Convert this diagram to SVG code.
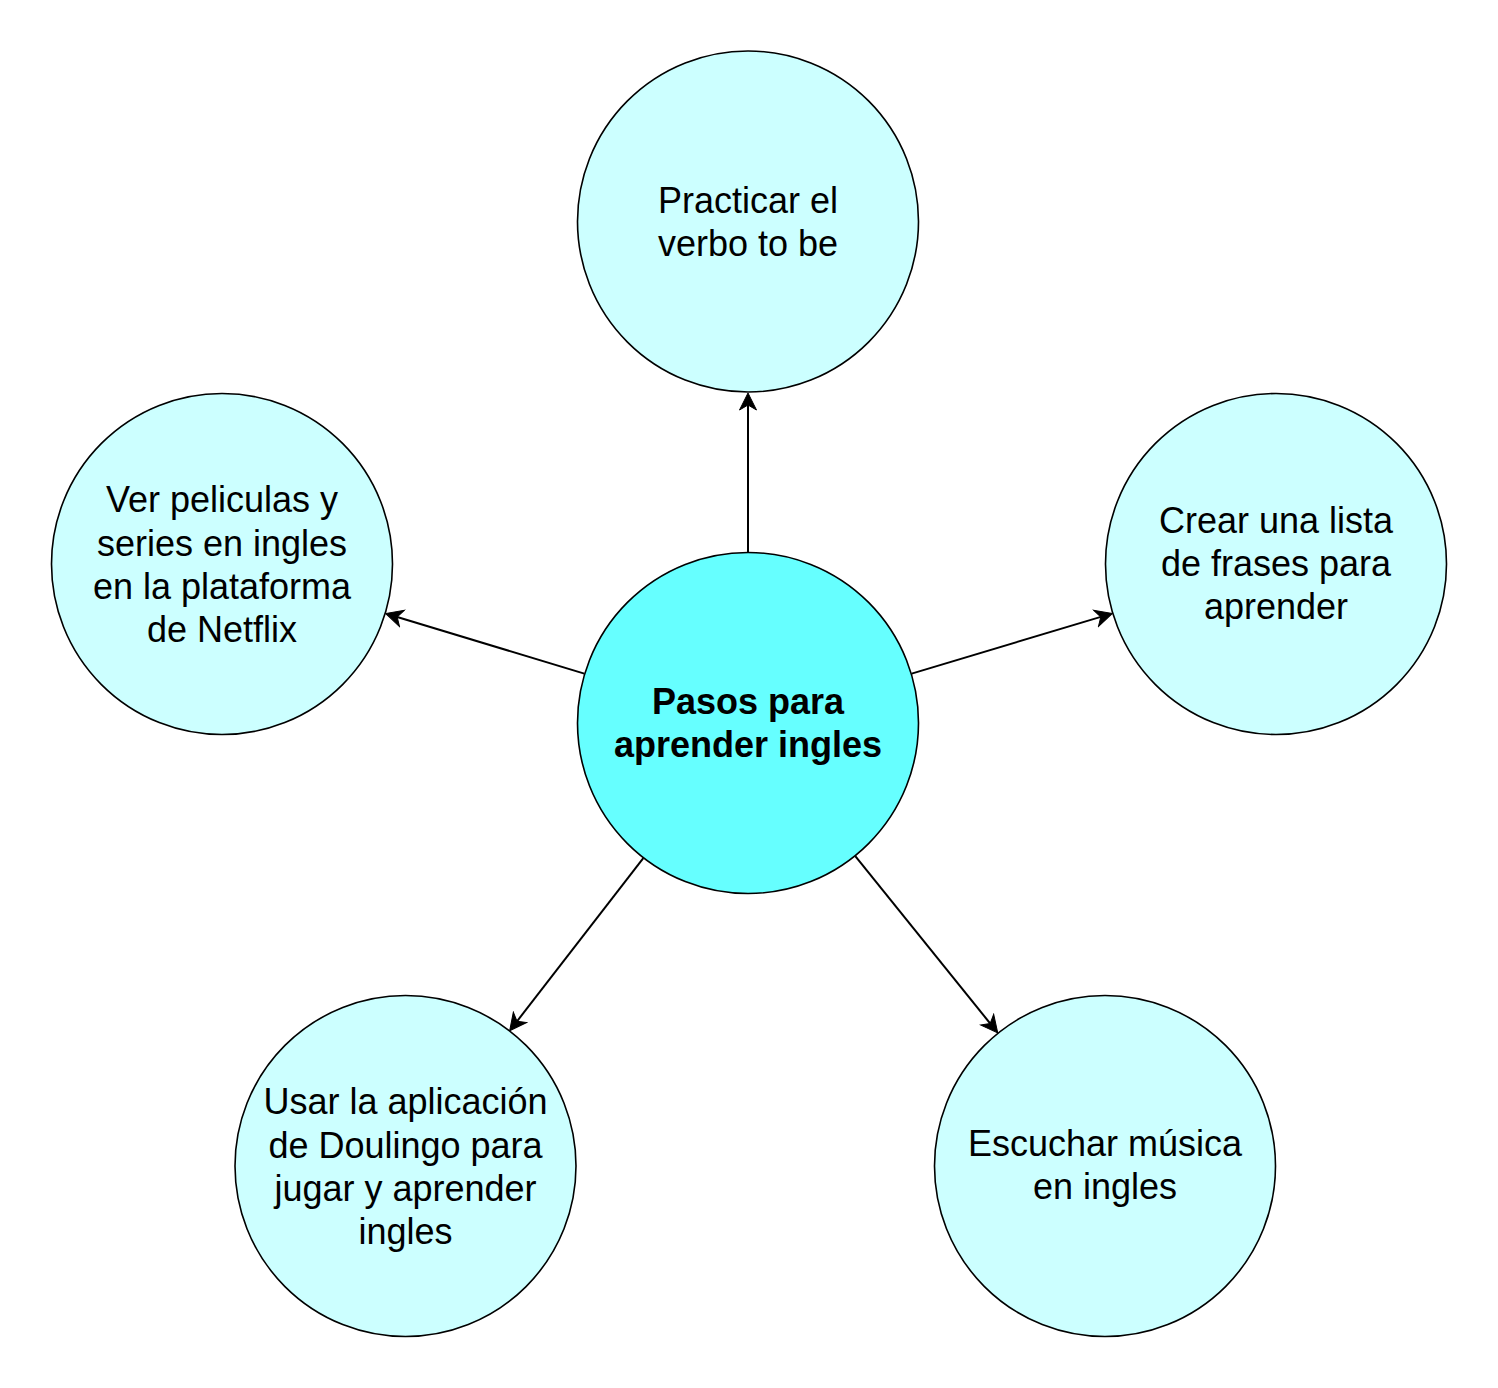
<svg xmlns="http://www.w3.org/2000/svg" width="1498" height="1388" viewBox="0 0 1498 1388">
<style>
.node{fill:#CCFFFF;stroke:#000;stroke-width:1.6}
.main{fill:#66FFFF;stroke:#000;stroke-width:1.6}
.t{font-family:"Liberation Sans",Arial,sans-serif;font-size:36px;fill:#000;text-anchor:middle}
.b{font-weight:bold}
.e{stroke:#000;stroke-width:2;fill:none;marker-end:url(#arr)}
</style>
<defs>
<marker id="arr" viewBox="-18 -10 20 20" markerWidth="20" markerHeight="20" refX="-12" refY="0" orient="auto" markerUnits="userSpaceOnUse">
<path d="M0,0 L-17,-8.5 L-12,0 L-17,8.5 Z" fill="#000" stroke="#000" stroke-width="1"/>
</marker>
</defs>
<rect width="1498" height="1388" fill="#fff"/>
<g id="connectors">
<line class="e" x1="748" y1="553" x2="748" y2="405"/>
<line class="e" x1="584.3" y1="673.6" x2="397.2" y2="617"/>
<line class="e" x1="911.7" y1="673.6" x2="1100.8" y2="616.9"/>
<line class="e" x1="643.3" y1="858.2" x2="517" y2="1021.3"/>
<line class="e" x1="855.3" y1="856.2" x2="990.2" y2="1023.5"/>
</g>
<g id="center">
<circle class="main" cx="748" cy="723" r="170.5"/>
<text class="t b" x="748" y="714">Pasos para</text>
<text class="t b" x="748" y="757">aprender ingles</text>
</g>
<g id="top">
<circle class="node" cx="748" cy="221.5" r="170.5"/>
<text class="t" x="748" y="213">Practicar el</text>
<text class="t" x="748" y="256">verbo to be</text>
</g>
<g id="left">
<circle class="node" cx="222" cy="564" r="170.5"/>
<text class="t" x="222" y="512">Ver peliculas y</text>
<text class="t" x="222" y="556">series en ingles</text>
<text class="t" x="222" y="599">en la plataforma</text>
<text class="t" x="222" y="642">de Netflix</text>
</g>
<g id="right">
<circle class="node" cx="1276" cy="564" r="170.5"/>
<text class="t" x="1276" y="533">Crear una lista</text>
<text class="t" x="1276" y="576">de frases para</text>
<text class="t" x="1276" y="619">aprender</text>
</g>
<g id="bottomleft">
<circle class="node" cx="405.5" cy="1166" r="170.5"/>
<text class="t" x="405.5" y="1114">Usar la aplicación</text>
<text class="t" x="405.5" y="1158">de Doulingo para</text>
<text class="t" x="405.5" y="1201">jugar y aprender</text>
<text class="t" x="405.5" y="1244">ingles</text>
</g>
<g id="bottomright">
<circle class="node" cx="1105" cy="1166" r="170.5"/>
<text class="t" x="1105" y="1156">Escuchar música</text>
<text class="t" x="1105" y="1199">en ingles</text>
</g>
</svg>
